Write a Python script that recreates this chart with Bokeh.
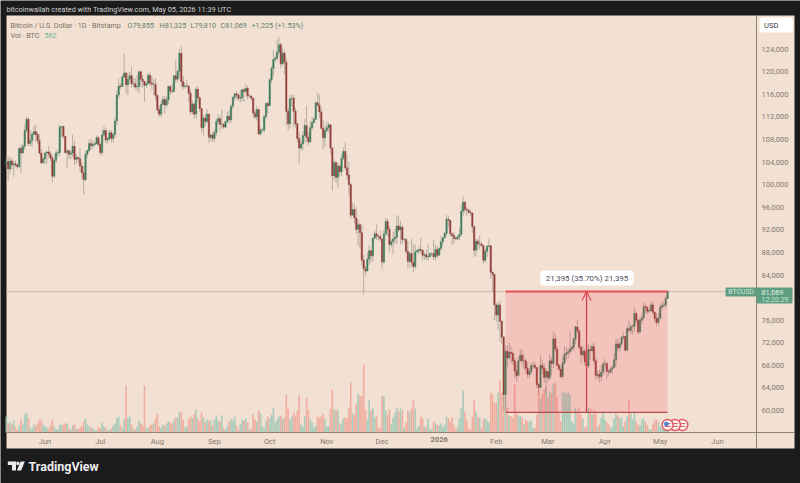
import pandas as pd
from bokeh.embed import file_html
from bokeh.resources import INLINE
from bokeh.plotting import figure
from bokeh.models import (Range1d, LinearAxis, FixedTicker, Label, BoxAnnotation, PolyAnnotation,
                          Arrow, OpenHead, ColumnDataSource)

# ---- data (prices in thousands of USD, one row per month, from 2025-05-11 to 2026-05-05) ----
first_day = "2025-05-11"
closes = [
 104.1,102.8,104.2,103.5,103.7,103.5,103.2,106.4,105.6,106.8,109.6,111.6,107.3,107.8,108.9,109.4,108.9,107.8,105.6,103.9,104.6,
 105.6,105.8,105.4,104.7,101.5,104.3,105.6,105.7,110.2,110.3,108.6,105.7,106.0,105.4,105.6,106.8,104.5,104.8,104.6,103.3,102.1,100.9,105.4,106.0,107.3,106.9,107.1,107.3,108.3,107.1,
 105.7,108.8,109.6,107.9,108.2,109.2,108.2,108.9,111.3,115.9,117.5,117.4,119.1,119.8,117.7,118.7,119.3,117.9,117.9,117.3,117.4,120.0,118.7,118.3,117.6,117.9,119.4,118.0,117.8,117.8,115.8,
 113.3,112.5,114.2,115.1,114.1,115.0,117.4,116.6,116.5,119.3,118.7,120.1,123.3,118.3,117.4,117.5,117.5,116.2,112.9,114.3,112.5,116.9,115.4,113.5,110.1,111.8,111.2,112.5,108.4,108.8,108.2,
 109.2,111.2,111.7,110.7,110.7,110.2,111.2,112.1,111.5,113.9,115.5,116.1,115.9,115.3,115.4,116.8,116.5,117.1,115.7,115.7,115.3,112.7,112.0,113.3,109.0,109.7,109.7,112.1,114.4,114.0,
 118.6,120.6,122.2,122.4,123.5,124.8,121.4,123.3,121.7,113.0,110.8,115.2,115.3,113.0,110.8,108.2,106.5,107.2,108.7,110.5,108.4,107.6,110.1,111.0,111.6,114.5,114.1,112.9,110.0,108.3,109.6,
 110.1,110.6,106.5,101.6,103.9,101.3,103.3,102.3,104.7,105.9,103.0,101.7,100.0,94.6,95.6,94.1,92.1,92.9,91.5,86.6,85.1,84.7,86.8,88.3,87.4,90.5,91.3,90.9,90.8,90.4,
 86.3,91.3,93.5,92.1,89.4,89.9,90.4,90.7,92.7,92.0,92.5,90.3,90.3,88.2,86.4,87.8,86.2,85.5,88.1,88.3,88.5,88.4,87.5,87.6,87.2,87.3,87.8,87.8,87.2,88.5,87.5,
 88.7,89.9,90.6,91.4,93.9,93.7,91.3,91.0,90.5,90.4,90.8,91.2,95.3,96.9,95.6,95.5,95.1,95.0,92.6,88.4,90.0,89.5,89.5,89.2,86.6,88.2,89.1,89.2,84.5,84.1,78.7,
 76.9,78.7,75.8,73.0,62.8,70.5,69.3,70.3,70.1,68.8,67.0,66.2,68.8,69.8,68.8,68.8,67.5,66.4,66.9,68.0,68.0,67.6,64.6,64.1,68.0,67.5,65.9,66.9,
 65.8,68.8,68.3,72.7,70.9,68.0,67.3,66.0,68.4,69.9,70.2,70.4,70.9,71.2,72.7,74.8,74.1,71.2,69.9,70.5,68.7,67.9,70.8,70.6,71.3,68.8,66.2,66.4,66.0,66.8,68.2,
 68.3,66.9,66.8,67.3,67.6,69.0,71.8,71.1,71.8,72.9,73.1,70.7,74.5,74.2,74.9,74.9,77.2,76.0,73.9,76.0,76.4,78.4,78.3,77.6,77.7,78.7,77.4,76.3,75.6,76.4,
 78.3,78.6,78.7,79.84,81.069]
opens = [
 103.6,104.1,102.8,104.2,103.5,103.7,103.5,103.2,106.4,105.6,106.8,109.6,111.6,107.3,107.8,108.9,109.4,108.9,107.8,105.6,103.9,
 104.6,105.6,105.8,105.4,104.7,101.5,104.3,105.6,105.7,110.2,110.3,108.6,105.7,106.0,105.4,105.6,106.8,104.5,104.8,104.6,103.3,102.1,100.9,105.4,106.0,107.3,106.9,107.1,107.3,108.3,
 107.1,105.7,108.8,109.6,107.9,108.2,109.2,108.2,108.9,111.3,115.9,117.5,117.4,119.1,119.8,117.7,118.7,119.3,117.9,117.9,117.3,117.4,120.0,118.7,118.3,117.6,117.9,119.4,118.0,117.8,117.8,
 115.8,113.3,112.5,114.2,115.1,114.1,115.0,117.4,116.6,116.5,119.3,118.7,120.1,123.3,118.3,117.4,117.5,117.5,116.2,112.9,114.3,112.5,116.9,115.4,113.5,110.1,111.8,111.2,112.5,108.4,108.8,
 108.2,109.2,111.2,111.7,110.7,110.7,110.2,111.2,112.1,111.5,113.9,115.5,116.1,115.9,115.3,115.4,116.8,116.5,117.1,115.7,115.7,115.3,112.7,112.0,113.3,109.0,109.7,109.7,112.1,114.4,
 114.0,118.6,120.6,122.2,122.4,123.5,124.8,121.4,123.3,121.7,113.0,110.8,115.2,115.3,113.0,110.8,108.2,106.5,107.2,108.7,110.5,108.4,107.6,110.1,111.0,111.6,114.5,114.1,112.9,110.0,108.3,
 109.6,110.1,110.6,106.5,101.6,103.9,101.3,103.3,102.3,104.7,105.9,103.0,101.7,100.0,94.6,95.6,94.1,92.1,92.9,91.5,86.6,85.1,84.7,86.8,88.3,87.4,90.5,91.3,90.9,90.8,
 90.4,86.3,91.3,93.5,92.1,89.4,89.9,90.4,90.7,92.7,92.0,92.5,90.3,90.3,88.2,86.4,87.8,86.2,85.5,88.1,88.3,88.5,88.4,87.5,87.6,87.2,87.3,87.8,87.8,87.2,88.5,
 87.5,88.7,89.9,90.6,91.4,93.9,93.7,91.3,91.0,90.5,90.4,90.8,91.2,95.3,96.9,95.6,95.5,95.1,95.0,92.6,88.4,90.0,89.5,89.5,89.2,86.6,88.2,89.1,89.2,84.5,84.1,
 78.7,76.9,78.7,75.8,73.0,62.8,70.5,69.3,70.3,70.1,68.8,67.0,66.2,68.8,69.8,68.8,68.8,67.5,66.4,66.9,68.0,68.0,67.6,64.6,64.1,68.0,67.5,65.9,
 66.9,65.8,68.8,68.3,72.7,70.9,68.0,67.3,66.0,68.4,69.9,70.2,70.4,70.9,71.2,72.7,74.8,74.1,71.2,69.9,70.5,68.7,67.9,70.8,70.6,71.3,68.8,66.2,66.4,66.0,66.8,
 68.2,68.3,66.9,66.8,67.3,67.6,69.0,71.8,71.1,71.8,72.9,73.1,70.7,74.5,74.2,74.9,74.9,77.2,76.0,73.9,76.0,76.4,78.4,78.3,77.6,77.7,78.7,77.4,76.3,75.6,
 76.4,78.3,78.6,78.7,79.855]
highs = [
 104.9,105.0,104.9,104.7,104.3,104.3,103.8,106.7,107.1,107.3,110.7,112.0,111.9,109.6,109.3,110.4,110.7,109.3,108.9,106.3,104.9,
 105.9,105.9,106.8,105.9,105.1,105.3,106.0,106.4,110.6,110.4,110.4,108.6,106.2,106.2,106.1,108.9,107.7,105.5,105.0,106.5,104.0,103.4,106.0,106.3,108.0,108.2,107.8,107.6,108.7,108.7,
 107.5,109.7,110.4,110.0,108.4,109.7,109.7,109.2,111.9,116.7,118.8,118.0,119.5,123.2,119.9,119.8,120.0,120.9,118.9,118.9,119.4,120.2,120.2,119.4,118.3,118.3,119.7,119.9,119.2,118.7,118.9,
 116.0,114.0,114.9,115.7,115.7,115.6,117.6,117.6,117.9,119.4,122.2,120.3,124.0,124.5,119.3,118.0,118.5,117.6,116.8,114.9,114.7,117.3,117.4,115.6,113.5,112.3,112.6,113.4,112.6,109.0,109.4,
 109.8,111.7,112.5,112.2,113.3,110.9,111.3,112.9,113.2,114.2,115.6,116.3,116.6,116.1,116.8,117.0,117.2,117.9,117.5,116.1,115.8,115.4,113.3,114.0,113.5,110.2,110.0,112.3,114.5,114.8,
 118.9,121.0,123.9,122.9,125.6,126.2,125.2,124.2,123.8,122.5,113.6,115.9,116.0,115.9,113.6,111.0,109.2,107.8,109.4,111.7,114.0,109.2,111.3,112.0,112.0,114.8,116.3,116.0,113.6,111.5,110.5,
 111.2,111.0,110.7,106.6,104.5,104.2,104.0,103.5,105.4,106.6,107.5,105.3,104.1,100.3,96.8,96.6,96.0,93.8,93.2,93.0,87.5,85.6,88.0,89.2,88.5,90.7,91.9,93.0,91.2,91.9,
 90.4,92.0,94.1,94.0,92.7,90.3,91.7,92.2,94.6,94.5,93.6,92.8,90.6,90.5,90.0,88.1,90.4,89.4,89.4,88.6,89.0,90.6,88.0,88.0,88.5,89.5,88.0,88.0,90.3,89.3,89.2,
 88.9,90.9,90.7,91.7,94.7,94.5,93.7,91.5,91.6,90.8,91.0,92.4,96.4,97.9,97.2,96.0,95.6,95.5,93.4,92.8,90.4,90.4,91.0,89.8,89.3,88.7,89.3,90.4,89.3,84.6,84.2,
 79.0,79.2,79.4,76.0,73.2,71.5,71.6,72.0,71.4,70.5,69.3,68.3,69.4,70.9,70.9,70.0,69.2,68.5,67.4,68.4,68.6,68.6,67.7,64.9,69.8,69.0,68.4,67.5,
 67.0,70.0,69.5,74.0,73.5,71.4,68.4,67.9,69.5,71.4,71.3,71.0,74.0,71.6,73.0,75.0,76.0,74.5,71.5,71.5,70.9,69.0,71.8,71.5,72.0,71.9,69.4,67.0,67.2,68.0,68.7,
 69.2,68.6,67.3,67.6,68.0,70.2,72.7,72.8,72.2,73.2,73.8,73.2,75.0,76.0,75.4,75.3,78.3,77.6,76.2,76.6,77.0,79.2,78.8,78.4,78.0,79.3,79.2,77.5,77.2,77.2,
 78.8,79.3,79.3,80.3,81.325]
lows = [
 103.2,100.7,101.9,102.7,101.4,103.1,102.7,103.0,102.0,105.6,106.2,109.3,106.8,106.8,106.7,108.8,107.6,107.2,105.4,103.6,103.7,
 103.7,103.7,104.8,104.2,100.5,101.2,103.8,105.0,105.1,108.4,108.2,105.4,102.9,104.5,104.5,105.0,103.5,103.6,103.9,102.3,101.0,98.2,100.6,104.7,105.9,106.2,106.4,106.9,107.1,106.8,
 105.2,105.1,108.6,107.3,107.3,107.8,107.5,107.5,108.4,110.6,115.3,116.9,117.3,118.9,116.2,115.8,117.8,117.2,117.3,116.9,116.6,116.3,117.3,117.2,114.7,117.1,117.7,117.5,116.9,115.9,115.0,
 112.7,112.0,111.9,114.2,112.6,113.7,114.3,115.9,116.2,116.5,118.0,118.2,118.9,117.2,116.8,117.0,117.2,114.7,112.4,112.4,111.7,111.7,114.6,112.9,109.3,108.7,110.4,110.9,107.4,107.7,107.5,
 107.6,108.6,110.5,109.4,110.0,109.9,110.0,110.9,110.8,110.9,113.5,114.8,115.1,114.8,114.5,114.8,114.7,116.1,115.1,115.4,115.0,111.9,111.6,111.4,108.8,108.7,109.3,109.2,111.6,112.7,
 113.9,118.0,119.3,121.7,122.0,123.0,120.6,121.1,119.5,110.5,109.6,110.0,113.9,110.2,110.1,107.5,103.6,106.1,106.1,107.5,107.5,106.9,107.4,109.7,110.8,111.4,113.8,111.8,109.8,106.3,106.7,
 109.3,109.4,105.4,98.9,100.8,100.3,99.5,101.5,101.5,104.4,102.6,100.9,98.2,94.0,94.6,93.2,91.3,89.2,88.7,85.6,80.6,83.9,84.7,85.7,86.2,86.4,90.4,90.2,90.2,90.0,
 85.0,85.9,90.9,90.9,88.1,88.9,87.7,89.5,89.6,91.6,89.4,89.6,89.8,87.7,85.2,85.3,85.5,84.5,85.1,87.9,87.6,87.9,86.6,86.7,86.6,86.6,87.1,87.4,86.7,86.6,87.0,
 87.4,88.3,89.3,90.5,91.0,92.5,90.8,89.3,89.5,90.2,90.2,90.1,91.0,94.5,95.0,94.4,94.9,94.5,91.5,87.2,87.3,88.4,88.6,89.0,86.0,86.2,87.2,88.9,83.3,81.1,76.0,
 75.7,74.3,72.2,71.8,60.0,60.0,67.7,68.9,68.3,68.1,65.7,65.1,65.9,68.7,68.0,67.3,66.6,65.7,65.7,66.4,67.4,67.3,63.9,62.6,63.9,66.5,65.0,63.0,
 65.0,65.4,66.2,67.5,70.2,67.8,67.0,65.7,65.6,68.1,68.8,69.2,69.9,70.5,70.5,71.7,73.6,70.8,68.2,69.5,68.0,67.4,67.5,69.0,70.2,68.2,65.6,65.6,65.0,65.2,66.2,
 67.6,65.7,66.2,66.5,66.6,67.5,67.8,70.5,70.5,71.4,72.4,70.4,70.5,73.9,73.6,73.5,74.0,75.6,73.5,73.6,75.3,75.9,77.2,77.0,77.2,77.5,77.0,75.7,74.9,75.2,
 76.1,77.9,78.2,78.2,79.81]
volumes = [
 1280,720,880,640,960,480,240,560,1040,640,1440,1600,1120,400,320,640,560,720,1040,960,640,
 480,400,320,560,1040,480,240,240,640,560,640,720,720,320,240,560,640,320,240,400,480,880,1120,640,480,400,320,160,160,480,
 320,800,480,400,160,240,320,560,720,1120,1280,560,320,1040,3760,1120,1280,640,320,240,480,960,720,560,3760,400,320,560,640,720,1120,
 1520,480,400,640,560,720,880,800,720,960,1200,1200,1680,1600,1040,400,480,1040,1280,1120,1520,1840,1120,880,1600,1200,800,1040,960,960,560,
 1040,1360,960,880,1360,320,240,560,880,1040,960,1280,560,240,640,1040,960,1120,800,240,320,1440,1040,880,1760,1520,480,320,960,1280,
 1120,1440,2000,800,1040,1280,1360,1120,1200,3040,1920,1040,1280,1600,1360,1760,2960,640,480,1280,2800,1760,1040,800,400,560,1280,1200,1280,1520,1040,
 480,480,1920,3440,1840,1840,1760,640,720,1120,1200,1120,2000,4000,1520,1440,2240,3120,2880,2960,5440,1840,1040,2640,1760,2000,1200,1360,400,400,
 2960,2880,1760,1440,1840,640,1200,1600,2000,1680,1920,1760,400,800,1760,1600,1920,2560,1920,320,560,1280,1120,480,400,1120,240,240,880,720,640,
 560,720,400,640,1280,1120,880,1200,640,240,480,1120,1920,3360,1680,1040,320,240,1280,2560,1680,1200,1200,320,1040,1120,960,800,3200,3040,2400,
 2400,3200,4160,3200,2960,2960,2000,1360,1280,1200,3840,1600,1360,1360,1200,640,1040,880,880,960,320,400,1440,3520,2720,3120,3440,3680,
 2800,3280,3120,3920,4000,2800,1600,880,3200,3200,3120,3200,3040,880,720,2000,1600,2000,1440,1120,400,480,2000,1920,1440,1840,1520,480,640,1200,1600,
 1040,800,640,320,480,1120,1520,1360,1120,1200,480,880,1280,2640,1520,1040,1600,880,640,560,1040,1120,880,560,240,240,640,1040,1040,800,
 480,320,400,720,562]
assert len(closes) == len(opens) == len(highs) == len(lows) == len(volumes) == 360

price_ticks = [60, 64, 68, 72, 76, 84, 88, 92, 96, 100, 104, 108, 112, 116, 120, 124]
price_labels = ["60,000", "64,000", "68,000", "72,000", "76,000", "84,000", "88,000", "92,000", "96,000", "100,000",
                "104,000", "108,000", "112,000", "116,000", "120,000", "124,000"]
month_dates = ["2025-06-01", "2025-07-01", "2025-08-01", "2025-09-01", "2025-10-01", "2025-11-01", "2025-12-01",
               "2026-02-01", "2026-03-01", "2026-04-01", "2026-05-01", "2026-06-01"]
month_labels = ["Jun", "Jul", "Aug", "Sep", "Oct", "Nov", "Dec", "Feb", "Mar", "Apr", "May", "Jun"]
year_date, year_label = "2026-01-01", "2026"
last_price = 81.069
measure_low, measure_high = 59.674, 81.069
measure_start, measure_end = "2026-02-06", "2026-05-05"
event_dates = ["2026-05-05", "2026-05-09", "2026-05-13"]

# ---- layout calibration (canvas pixels) ----
W, H = 800, 483
FL, FR, FT, FB = 6, 794, 15, 448          # light panel edges
PX_DAY, PX_JUN1 = 1.842, 44.5             # x scale
PX_K, PX_60 = 5.645, 410.0                # y scale
AXIS_X, AXIS_Y = 756, 432
BG, DARK = "#f2e1d3", "#1b1b1b"
FONT = "Roboto"
TXT = "#84796e"

def day(d):
    return int((pd.Timestamp(d) - pd.Timestamp("2025-06-01")).days)
def xd(px):
    return (px - PX_JUN1) / PX_DAY
def yd(px):
    return 60 + (PX_60 - px) / PX_K
def sx(px):
    return px
def sy(px):
    return H - px

start = day(first_day)
days = [start + i for i in range(len(closes))]
up = [c >= o for o, c in zip(opens, closes)]
src = ColumnDataSource(dict(
    x=days, o=opens, c=closes, h=highs, l=lows, v=volumes,
    top=[max(a, b) for a, b in zip(opens, closes)],
    bot=[min(a, b) for a, b in zip(opens, closes)],
    body=["#3c7d5c" if u else "#933f38" for u in up],
    vcol=["#9cc8b6" if u else "#f0a598" for u in up]))

# the frame fills the whole canvas: the dark surround is its background, the light panel is a box on it
p = figure(width=W, height=H, output_backend="svg", toolbar_location=None,
           x_range=Range1d(xd(0), xd(W)), y_range=Range1d(yd(H), yd(0)),
           x_axis_type=None, y_axis_type=None, min_border=0, background_fill_color=DARK,
           border_fill_color=DARK, outline_line_color=None, margin=(0, 0, 0, 0))
p.extra_y_ranges = {"vol": Range1d((AXIS_Y - H) * 80, AXIS_Y * 80)}

def box(a, b, t, bt, color, radius=0, level="annotation"):
    p.add_layout(BoxAnnotation(left=sx(a), right=sx(b), top=sy(t), bottom=sy(bt), left_units="screen",
                               right_units="screen", top_units="screen", bottom_units="screen",
                               fill_color=color, fill_alpha=1, line_color=None, border_radius=radius, level=level))
def text(t, x, y, color, size="7.3px", align="left", style="normal", font=FONT):
    p.add_layout(Label(x=sx(x), y=sy(y), x_units="screen", y_units="screen", text=t, text_color=color,
                       text_font=font, text_font_size=size, text_align=align, text_baseline="middle",
                       text_font_style=style))

box(FL, FR, FT, FB, BG, level="underlay")

def axis(ticks, labels, bounds, **kw):
    return LinearAxis(ticker=FixedTicker(ticks=ticks), major_label_overrides=dict(zip(ticks, labels)), bounds=bounds,
                      major_tick_line_color=None, minor_tick_line_color=None, major_tick_in=0, major_tick_out=0,
                      axis_line_color="#8e8377", major_label_text_font=FONT, major_label_text_font_size="7.6px",
                      major_label_text_color=TXT, **kw)

xb, yb = (xd(FL), xd(FR)), (yd(FB), yd(FT))
p.add_layout(axis([day(d) for d in month_dates], month_labels, xb, fixed_location=yd(AXIS_Y),
                  major_label_standoff=4), "below")
p.add_layout(axis([day(year_date)], [year_label], xb, fixed_location=yd(AXIS_Y), major_label_standoff=4,
                  major_label_text_font_style="bold"), "below")
p.add_layout(axis(price_ticks, price_labels, yb, fixed_location=xd(AXIS_X), major_label_standoff=5), "right")

p.segment([xd(FL)], [last_price], [xd(AXIS_X)], [last_price], line_color="#cdbeae", line_width=1)

p.vbar("x", top="v", bottom=0, width=0.9, fill_color="vcol", fill_alpha=0.85, line_color=None, source=src, y_range_name="vol")
p.segment("x", "h", "x", "l", line_color="#a79d92", line_width=0.9, line_alpha=0.85, source=src)
p.vbar("x", top="top", bottom="bot", width=0.72, fill_color="body", line_color="body", line_width=0.5, source=src)

# measure tool
x0, x1 = day(measure_start), day(measure_end)
xm = (x0 + x1) / 2
p.add_layout(BoxAnnotation(left=x0, right=x1, top=measure_high, bottom=measure_low, fill_color="#f23645",
                           fill_alpha=0.17, line_color=None))
p.segment([x0], [measure_high], [x1], [measure_high], line_color="#e2535a", line_width=2)
p.segment([x0], [measure_low], [x1], [measure_low], line_color="#b0504f", line_width=1.4)
p.add_layout(Arrow(end=OpenHead(size=9, line_color="#dd4a55", line_width=1.2), x_start=xm, y_start=measure_low,
                   x_end=xm, y_end=measure_high, line_color="#d8434f", line_width=1.3))

# event icons
ev = [day(d) for d in event_dates][::-1]
ey = yd(424.5)
p.scatter(ev, [ey] * 3, size=11, marker="circle", fill_color="#fbf3ee", line_color="#e25660", line_width=1.4)
p.scatter(ev, [ey + 1.4 / PX_K] * 3, size=6, marker="dash", line_color="#e25660", line_width=1)
p.scatter(ev, [ey - 1.4 / PX_K] * 3, size=6, marker="dash", line_color="#e25660", line_width=1)
p.scatter([day(event_dates[0]) - 0.7], [ey + 1.0 / PX_K], size=4.5, marker="circle", fill_color="#4a86d8", line_color=None)

box(540, 633, 270, 285, "#ffffff", 3)
text("21,395 (35.70%) 21,395", 586.5, 277.7, "#4a4e5c", "7.9px", "center")

box(759, 792.5, 17, 32, "#ffffff", 3)
text("USD", 763.5, 25, "#3b3b40", "7.6px")

box(725, 756, 287, 296, "#5f9e80", 1)
box(756, 792, 287, 303, "#5f9e80", 1)
text("BTCUSD", 740.5, 291.8, "#d5e8dc", "6.8px", "center")
text("81,069", 761, 291.5, "#e6f2ea", "7.3px")
text("12:20:29", 761, 299, "#c4e0d0", "7.0px")

text("bitcoinwallah created with TradingView.com, May 05, 2026 11:39 UTC", 6, 8.7, "#cfcfcf", "7.3px")
GREY, GRN = "#7b7268", "#5e8069"
text("Bitcoin / U.S. Dollar · 1D · Bitstamp", 10, 24.5, GREY, "7.2px")
for s, xpos in [("O79,855", 127), ("H81,325", 159), ("L79,810", 190), ("C81,069", 220), ("+1,225 (+1.53%)", 251)]:
    text(s, xpos, 24.5, GRN, "7.2px")
text("Vol · BTC", 10, 34.5, GREY, "7.2px")
text("562", 44, 34.5, "#74b39c", "7.2px")

# TradingView logo
def poly(pts):
    p.add_layout(PolyAnnotation(xs=[sx(a) for a, _ in pts], ys=[sy(b) for _, b in pts], xs_units="screen",
                                ys_units="screen", fill_color="#ececec", fill_alpha=1, line_color=None))
poly([(7.3, 461), (15.5, 461), (15.5, 470), (11.5, 470), (11.5, 464.6), (7.3, 464.6)])
poly([(16.0, 461.6), (17.2, 461), (18.4, 461.6), (19, 462.9), (18.4, 464.2), (17.2, 464.8), (16.0, 464.2), (15.8, 462.9)])
poly([(20, 461), (24.3, 461), (20.6, 470), (16.4, 470)])
text("TradingView", 28, 465.8, "#ececec", "12.5px", style="bold")

open("out.html", "w").write(file_html(p, INLINE))
